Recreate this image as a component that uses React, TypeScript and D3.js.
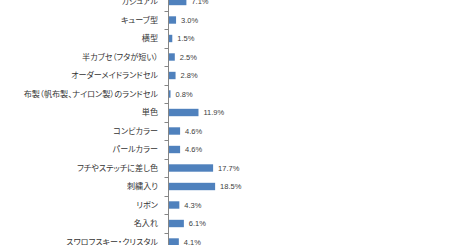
import React from 'react';
import * as d3 from 'd3';

const categories = [
  'カジュアル',
  'キューブ型',
  '横型',
  '半カブセ（フタが短い）',
  'オーダーメイドランドセル',
  '布製（帆布製、ナイロン製）のランドセル',
  '単色',
  'コンビカラー',
  'パールカラー',
  'フチやステッチに差し色',
  '刺繍入り',
  'リボン',
  '名入れ',
  'スワロフスキー・クリスタル',
];
const values = [7.1, 3.0, 1.5, 2.5, 2.8, 0.8, 11.9, 4.6, 4.6, 17.7, 18.5, 4.3, 6.1, 4.1];

const App = () => {
  const width = 460;
  const height = 245;
  const axisX = 168.5;

  const y = d3.scaleBand<string>()
    .domain(categories)
    .range([-7.75, -7.75 + 18.5 * categories.length])
    .paddingInner(0.6)
    .paddingOuter(0.3);

  const x = d3.scaleLinear()
    .domain([0, 20])
    .range([0, 50.4]);

  const step = y.step();
  const y0 = y.range()[0];
  const tickYs = d3.range(categories.length + 1).map(k => y0 + k * step);

  return (
    <div style={{ position: 'absolute', left: 0, top: 0 }}>
      <svg width={width} height={height} style={{ display: 'block', background: '#fff' }}>
        {categories.map((c, i) => {
          const cy = (y(c) ?? 0) + y.bandwidth() / 2;
          return (
            <g key={c}>
              <text
                x={158}
                y={cy}
                dy="0.35em"
                textAnchor="end"
                fill="#333"
                style={{ fontSize: '8.1px', fontFamily: '"Noto Sans CJK JP", sans-serif', fontFeatureSettings: '"palt"' }}
              >{c}</text>
              <rect
                x={axisX}
                y={y(c)}
                width={x(values[i])}
                height={y.bandwidth()}
                fill="#4F81BD"
              />
              <text
                x={axisX + x(values[i]) + 5}
                y={cy}
                dy="0.35em"
                fill="#404040"
                style={{ fontSize: '7.5px', fontFamily: '"Liberation Sans", Arial, sans-serif' }}
              >{values[i].toFixed(1)}%</text>
            </g>
          );
        })}
        <line x1={axisX} x2={axisX} y1={0} y2={height} stroke="#868686" strokeWidth={1} />
        {tickYs.map((t, k) => (
          <line key={k} x1={axisX - 4} x2={axisX} y1={Math.round(t) + 0.5} y2={Math.round(t) + 0.5} stroke="#868686" strokeWidth={1} />
        ))}
      </svg>
    </div>
  );
};

export default App;
